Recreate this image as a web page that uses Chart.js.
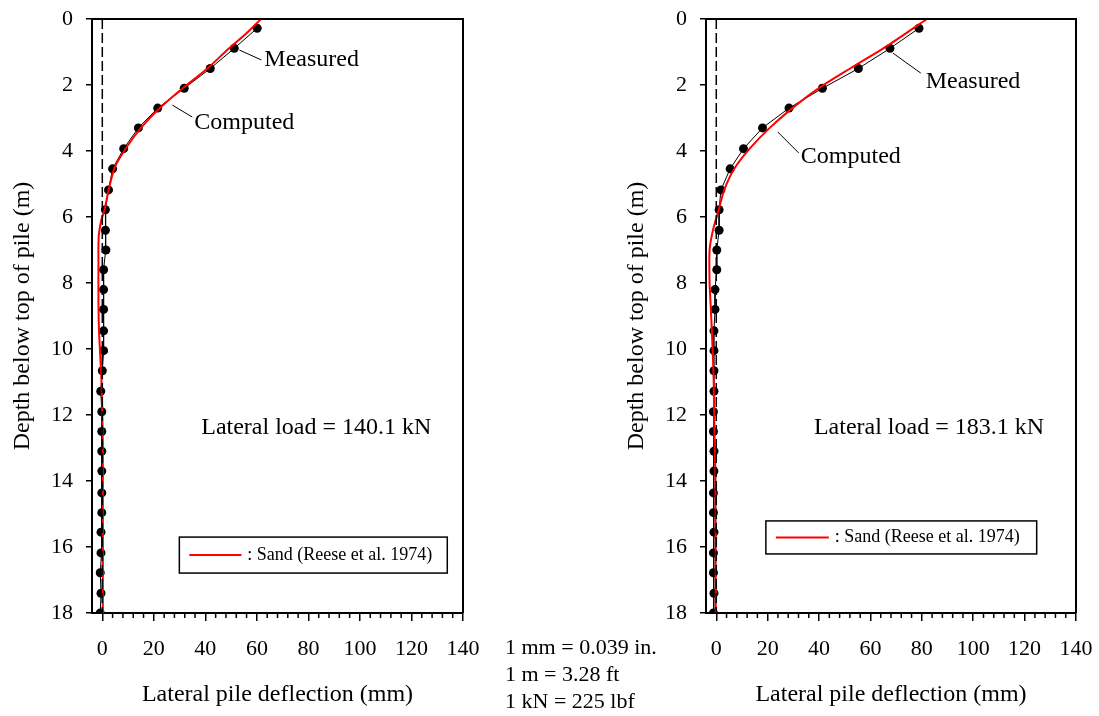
<!DOCTYPE html>
<html>
<head>
<meta charset="utf-8">
<script src="https://cdn.jsdelivr.net/npm/chart.js@4.4.1/dist/chart.umd.min.js"></script>
<style>
  html, body { margin: 0; padding: 0; background: #fff; }
  #wrap { position: relative; width: 1099px; height: 716px; overflow: hidden; }
  canvas { position: absolute; left: 0; top: 0; }
  #units { position: absolute; left: 505px; top: 633px; font-family: 'Liberation Serif', 'Times New Roman', serif; font-size: 22px; line-height: 27px; color: #000; }
</style>
</head>
<body>
<div id="wrap">
  <canvas id="leftChart" width="1099" height="716"></canvas>
  <canvas id="rightChart" width="1099" height="716"></canvas>
  <div id="units">1 mm = 0.039 in.<br>1 m = 3.28 ft<br>1 kN = 225 lbf</div>
</div>
<script>
// axis ticks
const xTicks = [0, 20, 40, 60, 80, 100, 120, 140];
const xMinorTicks = [4, 8, 12, 16, 24, 28, 32, 36, 44, 48, 52, 56, 64, 68, 72, 76, 84, 88, 92, 96, 104, 108, 112, 116, 124, 128, 132, 136];

// measured points (depth in m, deflection in mm)
const measuredDepth = [0.28, 0.89, 1.5, 2.1, 2.7, 3.3, 3.93, 4.54, 5.18, 5.78, 6.4, 7.0, 7.6, 8.2, 8.8, 9.45, 10.05, 10.66, 11.28, 11.9, 12.5, 13.1, 13.7, 14.36, 14.96, 15.55, 16.18, 16.78, 17.4, 18.0];
const measuredLeft = [60.1, 51.2, 41.9, 31.8, 21.5, 14.0, 8.3, 4.0, 2.4, 1.2, 1.2, 1.4, 0.5, 0.5, 0.5, 0.5, 0.5, 0.0, -0.6, -0.2, -0.2, -0.2, -0.2, -0.2, -0.2, -0.5, -0.5, -0.8, -0.5, -0.8];
const measuredRight = [78.9, 67.6, 55.3, 41.3, 28.3, 18.0, 10.6, 5.4, 1.8, 1.1, 1.1, 0.2, 0.2, -0.5, -0.5, -0.9, -0.9, -0.9, -0.9, -1.1, -1.1, -0.9, -0.9, -1.1, -1.1, -0.9, -1.1, -1.1, -0.9, -1.1];

// computed curves (Sand, Reese et al. 1974)
const computedDepthLeft = [0, 0.5, 0.9, 1.5, 2.1, 2.7, 3.3, 3.9, 4.5, 5.2, 5.8, 6.1, 6.6, 7.5, 8.5, 9.4, 10.2, 11.0, 12.0, 13.0, 18.0];
const computedLeft = [61.6, 55.0, 49.0, 40.8, 31.2, 22.3, 15.0, 9.3, 4.8, 2.4, 0.8, -0.4, -1.4, -1.5, -1.5, -1.3, -0.8, -0.3, 0.0, 0.2, 0.2];
const computedDepthRight = [0, 0.79, 1.5, 2.1, 2.7, 3.3, 3.93, 4.54, 5.2, 5.8, 6.4, 7.0, 8.0, 8.8, 10.05, 11.0, 12.6, 14.0, 18.0];
const computedRight = [82.0, 67.0, 52.1, 39.8, 29.6, 20.8, 13.0, 7.0, 3.0, 0.9, -1.3, -2.6, -2.6, -2.1, -1.4, -1.0, -0.7, -0.3, -0.2];

// zero reference line
const zeroLineX = [0, 0];
const zeroLineDepth = [0, 18];

const legendText = ': Sand (Reese et al. 1974)';

const leftNotes = {
  labels: [
    { text: 'Measured', x: 62.9, y: 1.24 },
    { text: 'Computed', x: 35.7, y: 3.15 },
    { text: 'Lateral load = 140.1 kN', x: 38.4, y: 12.4 }
  ],
  leaders: [[53.2, 0.94, 61.7, 1.24], [27.2, 2.61, 34.9, 2.97]],
  legend: { x0: 29.9, x1: 133.9, y0: 15.7, y1: 16.79, s0: 33.8, s1: 54, t: 56.3 }
};
const rightNotes = {
  labels: [
    { text: 'Measured', x: 81.5, y: 1.91 },
    { text: 'Computed', x: 32.9, y: 4.18 },
    { text: 'Lateral load = 183.1 kN', x: 38.0, y: 12.4 }
  ],
  leaders: [[68.7, 1.03, 79.6, 1.64], [23.9, 3.42, 32.1, 4.06]],
  legend: { x0: 19.3, x1: 124.7, y0: 15.21, y1: 16.21, s0: 23.2, s1: 43.8, t: 46.1 }
};

const FONT = "'Liberation Serif', 'Times New Roman', serif";
Chart.defaults.font.family = FONT;
Chart.defaults.color = '#000';

function toPoints(xs, ys) {
  return xs.map((x, i) => ({ x: x, y: ys[i] }));
}

// frame, minor ticks, labels and legend box
const notesPlugin = {
  id: 'notes',
  afterDraw(chart, args, opts) {
    const { ctx, chartArea } = chart;
    const sx = chart.scales.x, sy = chart.scales.y;
    const px = v => sx.getPixelForValue(v);
    const py = v => sy.getPixelForValue(v);
    ctx.save();
    ctx.strokeStyle = '#000';
    ctx.lineWidth = 2;
    ctx.beginPath();
    ctx.moveTo(chartArea.left, chartArea.top);
    ctx.lineTo(chartArea.right, chartArea.top);
    ctx.lineTo(chartArea.right, chartArea.bottom);
    ctx.stroke();

    ctx.lineWidth = 1.5;
    ctx.beginPath();
    xMinorTicks.forEach(v => {
      ctx.moveTo(px(v), chartArea.bottom);
      ctx.lineTo(px(v), chartArea.bottom + 5);
    });
    ctx.stroke();

    // leader lines
    ctx.lineWidth = 1;
    opts.leaders.forEach(l => {
      ctx.beginPath();
      ctx.moveTo(px(l[0]), py(l[1]));
      ctx.lineTo(px(l[2]), py(l[3]));
      ctx.stroke();
    });

    ctx.fillStyle = '#000';
    ctx.font = '24px ' + FONT;
    ctx.textAlign = 'left';
    ctx.textBaseline = 'middle';
    opts.labels.forEach(lb => {
      ctx.fillText(lb.text, px(lb.x), py(lb.y));
    });

    // legend
    const lg = opts.legend;
    ctx.fillStyle = '#fff';
    ctx.fillRect(px(lg.x0), py(lg.y0), px(lg.x1) - px(lg.x0), py(lg.y1) - py(lg.y0));
    ctx.lineWidth = 1.5;
    ctx.strokeRect(px(lg.x0), py(lg.y0), px(lg.x1) - px(lg.x0), py(lg.y1) - py(lg.y0));
    const ym = (py(lg.y0) + py(lg.y1)) / 2;
    ctx.strokeStyle = '#ff0000';
    ctx.lineWidth = 2;
    ctx.beginPath();
    ctx.moveTo(px(lg.s0), ym);
    ctx.lineTo(px(lg.s1), ym);
    ctx.stroke();
    ctx.fillStyle = '#000';
    ctx.font = '18px ' + FONT;
    ctx.fillText(legendText, px(lg.t), ym);
    ctx.restore();
  }
};

function makeChart(id, measured, compDepth, computed, notes, padLeft, padRight) {
  const ctx = document.getElementById(id).getContext('2d');
  return new Chart(ctx, {
    type: 'scatter',
    data: {
      datasets: [
        {
          label: 'zero',
          data: toPoints(zeroLineX, zeroLineDepth),
          showLine: true,
          borderColor: '#000',
          borderWidth: 1.5,
          borderDash: [10, 4],
          pointRadius: 0
        },
        {
          label: 'Computed',
          data: toPoints(computed, compDepth),
          showLine: true,
          tension: 0.25,
          borderColor: '#ff0000',
          borderWidth: 2,
          pointRadius: 0
        },
        {
          label: 'Measured',
          data: toPoints(measured, measuredDepth),
          showLine: true,
          borderColor: '#000',
          borderWidth: 1,
          pointRadius: 4.5,
          pointBorderWidth: 0,
          pointBackgroundColor: '#000'
        }
      ]
    },
    options: {
      responsive: false,
      animation: false,
      devicePixelRatio: 1,
      layout: { padding: { left: padLeft, right: padRight, top: 19, bottom: 0 } },
      plugins: {
        legend: { display: false },
        tooltip: { enabled: false },
        notes: notes
      },
      scales: {
        x: {
          type: 'linear',
          position: 'bottom',
          min: -4,
          max: 140,
          afterBuildTicks: s => { s.ticks = xTicks.map(v => ({ value: v })); },
          afterFit: s => { s.height = 103; s.paddingLeft = 0; s.paddingRight = 0; },
          ticks: { font: { size: 22 }, color: '#000', padding: 15, maxRotation: 0, autoSkip: false },
          grid: { drawOnChartArea: false, tickLength: 8, color: '#000', lineWidth: 1.5 },
          border: { color: '#000', width: 2 },
          title: { display: true, text: 'Lateral pile deflection (mm)', font: { size: 24 }, color: '#000', padding: { top: 0, bottom: 7 } }
        },
        y: {
          type: 'linear',
          position: 'left',
          reverse: true,
          min: 0,
          max: 18,
          afterFit: s => { s.width = 92; s.paddingTop = 0; s.paddingBottom = 0; },
          ticks: { stepSize: 2, font: { size: 22 }, color: '#000', padding: 13 },
          grid: { drawOnChartArea: false, tickLength: 6, color: '#000', lineWidth: 1.5 },
          border: { color: '#000', width: 2 },
          title: { display: true, text: 'Depth below top of pile (m)', font: { size: 24 }, color: '#000', padding: { top: 8, bottom: 0 } }
        }
      }
    },
    plugins: [notesPlugin]
  });
}

makeChart('leftChart', measuredLeft, computedDepthLeft, computedLeft, leftNotes, 0, 1099 - 463);
makeChart('rightChart', measuredRight, computedDepthRight, computedRight, rightNotes, 614, 1099 - 1076);
</script>
</body>
</html>
